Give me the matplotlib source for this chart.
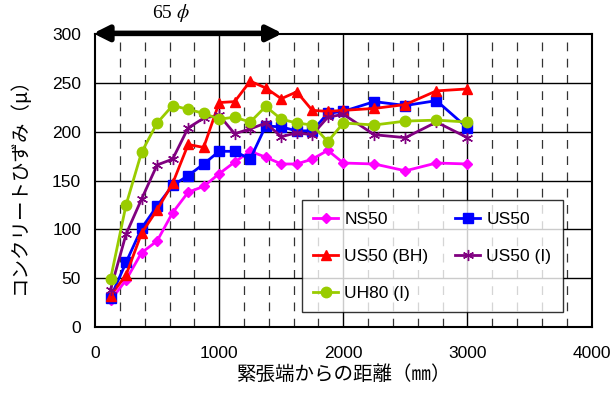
import matplotlib
matplotlib.use("Agg")
import matplotlib.pyplot as plt

x = [125, 250, 375, 500, 625, 750, 875, 1000, 1125, 1250, 1375, 1500, 1625,
     1750, 1875, 2000, 2250, 2500, 2750, 3000]

ns50 = [27, 48, 76, 88, 117, 138, 144, 157, 169, 180, 174, 167, 167,
        172, 181, 168, 167, 160, 168, 167]
us50 = [30, 66, 101, 124, 145, 155, 167, 180, 180, 172, 206, 205, 201,
        201, 219, 221, 231, 227, 232, 204]
us50_bh = [32, 53, 96, 120, 147, 187, 184, 230, 231, 252, 245, 234, 241,
           222, 221, 222, 224, 228, 242, 244]
us50_i = [38, 95, 131, 166, 172, 204, 214, 217, 198, 203, 209, 195, 199,
          197, 215, 218, 197, 194, 210, 194]
uh80_i = [49, 125, 179, 209, 227, 223, 219, 213, 215, 210, 226, 213, 209,
          207, 190, 209, 207, 211, 212, 210]

labels = ["NS50", "US50", "US50 (BH)", "US50 (I)", "UH80 (I)"]
series = [ns50, us50, us50_bh, us50_i, uh80_i]
colors = ["#FF00FF", "#0000FF", "#FF0000", "#800080", "#99CC00"]
markers = ["D", "s", "^", (6, 2, 0), "o"]
msizes = [5.5, 7, 7.5, 8, 7.5]

xticks = [0, 1000, 2000, 3000, 4000]
yticks = [0, 50, 100, 150, 200, 250, 300]

num_font = ["Liberation Sans", "DejaVu Sans"]
jp_font = ["Noto Sans CJK JP", "DejaVu Sans"]
plt.rcParams["mathtext.fontset"] = "stix"

fig = plt.figure(figsize=(6.15, 3.98), dpi=100)
ax = fig.add_axes([0.1545, 0.179, 0.8075, 0.7347])
ax.set_xlim(0, 4000)
ax.set_ylim(0, 300)

# grid
for v in range(200, 4000, 200):
    if v % 1000 == 0:
        ax.axvline(v, color="black", lw=1.0, zorder=1)
    else:
        ax.axvline(v, color="#333333", lw=0.9, ls=(0, (7, 6)), zorder=1)
for v in yticks[1:-1]:
    ax.axhline(v, color="black", lw=1.0, zorder=1)

handles = []
for ys, lab, c, m, ms in zip(series, labels, colors, markers, msizes):
    h, = ax.plot(x, ys, color=c, lw=2.0, marker=m, markersize=ms,
                 markeredgecolor=c, markerfacecolor=c, label=lab, zorder=3,
                 clip_on=False)
    handles.append(h)

ax.set_xticks(xticks)
ax.set_yticks(yticks)
ax.tick_params(axis="x", length=0, pad=14)
ax.tick_params(axis="y", length=0, pad=10)
for t in ax.get_xticklabels() + ax.get_yticklabels():
    t.set_family(num_font)
    t.set_fontsize(12.5)

for s in ax.spines.values():
    s.set_linewidth(1.5)
    s.set_color("black")

ax.set_xlabel("緊張端からの距離（㎜）", family=jp_font, fontsize=14, labelpad=2)
ax.set_ylabel("コンクリートひずみ（μ）", family=jp_font, fontsize=14, labelpad=16)

order = [0, 2, 4, 1, 3]
leg = ax.legend([handles[i] for i in order], [labels[i] for i in order],
                ncol=2, loc="upper left", mode="expand",
                bbox_to_anchor=(0.4165, 0.05, 0.525, 0.383),
                frameon=True, fancybox=False, edgecolor="black",
                prop={"family": num_font, "size": 12.5},
                handlelength=1.45, handletextpad=0.35, labelspacing=1.27,
                columnspacing=0.8, borderpad=0.65, borderaxespad=0)
leg.get_frame().set_linewidth(1.0)
leg.set_zorder(5)

# 65 phi arrow
ax.annotate("", xy=(1510, 301), xytext=(-15, 301),
            arrowprops=dict(arrowstyle="<|-|>,head_length=0.9,head_width=0.45",
                            lw=4, color="black", shrinkA=0, shrinkB=0),
            annotation_clip=False, zorder=6)
ax.text(610, 311, r"65 $\phi$", fontsize=14, family="Liberation Serif",
        ha="center", va="bottom", clip_on=False)

fig.savefig("out.png", dpi=100)
